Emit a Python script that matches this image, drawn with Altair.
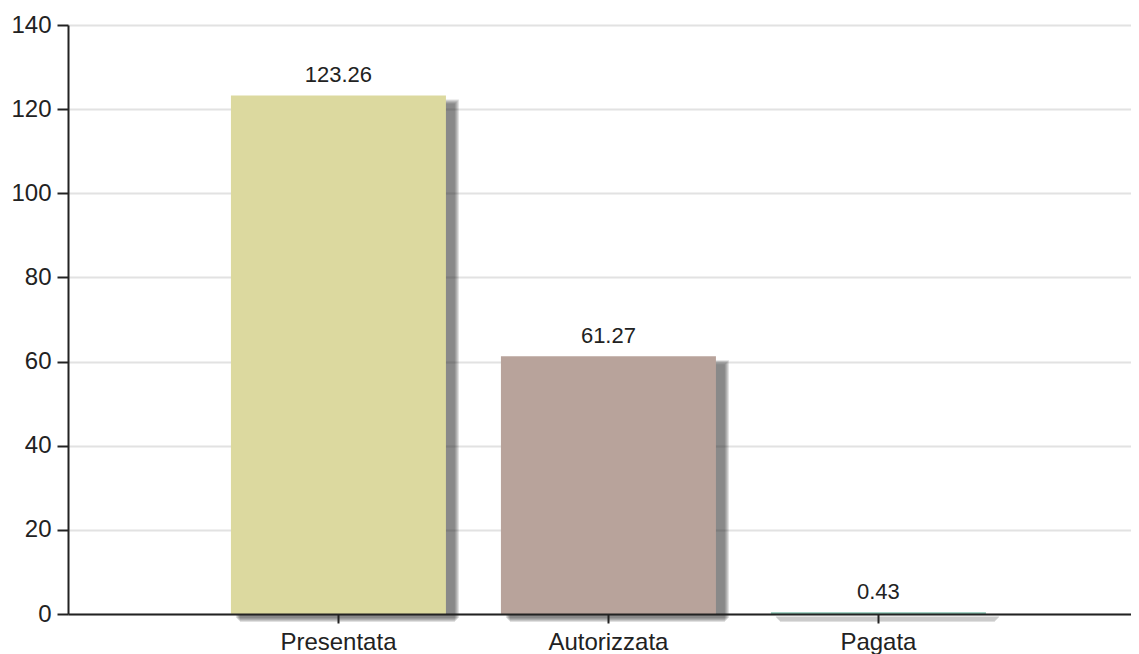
import altair as alt
import pandas as pd

categories = ["Presentata", "Autorizzata", "Pagata"]
values = [123.26, 61.27, 0.43]
labels = ["123.26", "61.27", "0.43"]
colors = ["#dcd99f", "#b8a39b", "#86c2b0"]
y_ticks = [0, 20, 40, 60, 80, 100, 120, 140]

df = pd.DataFrame({"cat": categories, "val": values, "lab": labels, "col": colors})

FONT = "Liberation Sans"

xscale = alt.Scale(domain=categories, paddingInner=0.2037, paddingOuter=0.5704, align=0.529)
yscale = alt.Scale(domain=[0, 140], nice=False, zero=True)

xaxis = alt.Axis(title=None, labelAngle=0, labelFont=FONT, labelFontSize=24, labelColor="#222",
                 domainColor="#222", domainWidth=2, tickColor="#222", tickWidth=2, tickSize=9,
                 labelPadding=7, grid=False, zindex=1)
yaxis = alt.Axis(title=None, values=y_ticks, labelFont=FONT, labelFontSize=24, labelColor="#222",
                 domainColor="#222", domainWidth=2, tickColor="#222", tickWidth=2, tickSize=11,
                 labelPadding=6, grid=True, gridColor="#e2e2e2", gridWidth=2, zindex=0)

base = alt.Chart(df).encode(
    x=alt.X("cat:N", sort=categories, scale=xscale, axis=xaxis),
    y=alt.Y("val:Q", scale=yscale, axis=yaxis),
)

# soft drop shadow: stacked translucent rectangles, each grown by k px
SX, SY, BW = 9, 8, 215.0
layers = []
for k in [0, 1, 2, 3, 4]:
    layers.append(base.mark_bar(color="#222222", opacity=0.14,
                                width=alt.RelativeBandSize(1 + 2 * k / BW),
                                xOffset=SX, yOffset=SY - k, y2Offset=SY + k))

bars = base.mark_bar().encode(color=alt.Color("col:N", scale=None))
text = base.mark_text(font=FONT, fontSize=22, color="#222", baseline="alphabetic", dy=-13).encode(
    text="lab:N")

chart = alt.layer(*layers, bars, text).properties(
    width=1063, height=589,
    autosize=alt.AutoSizeParams(type="none"),
    padding={"left": 60, "top": 17, "right": 0, "bottom": 40},
).configure_view(stroke=None)

chart.save("out.html", embed_options={"renderer": "svg", "actions": False})
